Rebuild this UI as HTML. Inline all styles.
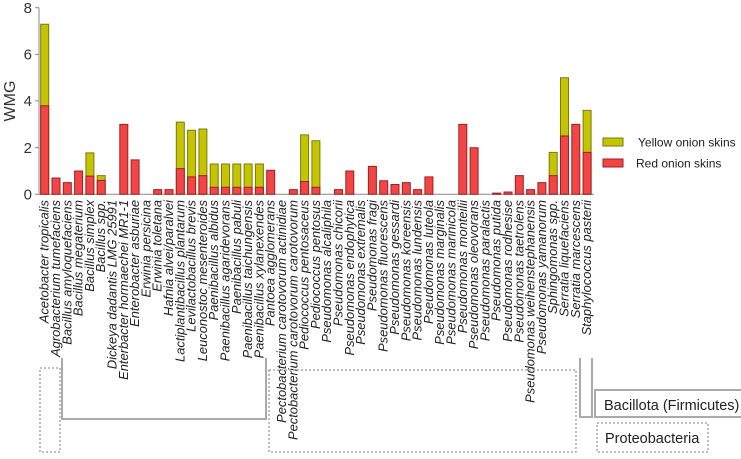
<!DOCTYPE html>
<html><head><meta charset="utf-8"><style>
html,body{margin:0;padding:0;background:#fff;}
svg{display:block;font-family:"Liberation Sans",sans-serif;}
.l text{font-style:italic;font-size:12.9px;fill:#222;}
</style></head><body>
<svg width="741" height="459" viewBox="0 0 741 459">
<!-- axes -->
<line x1="39" y1="7.7" x2="39" y2="194.3" stroke="#888" stroke-width="1"/>
<line x1="39" y1="194.3" x2="594" y2="194.3" stroke="#888" stroke-width="1"/>
<g stroke="#888"><line x1="35" y1="7.7" x2="39" y2="7.7"/><line x1="35" y1="54.3" x2="39" y2="54.3"/><line x1="35" y1="100.9" x2="39" y2="100.9"/><line x1="35" y1="147.7" x2="39" y2="147.7"/><line x1="35" y1="194.3" x2="39" y2="194.3"/></g>
<g font-size="15" fill="#333" text-anchor="end"><text x="32" y="13">8</text><text x="32" y="59.6">6</text><text x="32" y="106.2">4</text><text x="32" y="152.8">2</text><text x="32" y="199.4">0</text></g>
<text transform="translate(15,101) rotate(-90)" font-size="16" fill="#333" text-anchor="middle">WMG</text>

<g transform="translate(0,194.3) scale(1,-23.3)" stroke-width="1">
<g fill="#c4c400" stroke="#7a7a10">
<rect vector-effect="non-scaling-stroke" x="40.7" y="0" width="8" height="7.3"/>
<rect vector-effect="non-scaling-stroke" x="85.9" y="0" width="8" height="1.78"/>
<rect vector-effect="non-scaling-stroke" x="97.2" y="0" width="8" height="0.8"/>
<rect vector-effect="non-scaling-stroke" x="176.3" y="0" width="8" height="3.1"/>
<rect vector-effect="non-scaling-stroke" x="187.6" y="0" width="8" height="2.75"/>
<rect vector-effect="non-scaling-stroke" x="198.9" y="0" width="8" height="2.8"/>
<rect vector-effect="non-scaling-stroke" x="210.2" y="0" width="8" height="1.3"/>
<rect vector-effect="non-scaling-stroke" x="221.5" y="0" width="8" height="1.3"/>
<rect vector-effect="non-scaling-stroke" x="232.8" y="0" width="8" height="1.3"/>
<rect vector-effect="non-scaling-stroke" x="244.1" y="0" width="8" height="1.3"/>
<rect vector-effect="non-scaling-stroke" x="255.4" y="0" width="8" height="1.3"/>
<rect vector-effect="non-scaling-stroke" x="300.6" y="0" width="8" height="2.55"/>
<rect vector-effect="non-scaling-stroke" x="311.9" y="0" width="8" height="2.3"/>
<rect vector-effect="non-scaling-stroke" x="549.2" y="0" width="8" height="1.8"/>
<rect vector-effect="non-scaling-stroke" x="560.5" y="0" width="8" height="5.0"/>
<rect vector-effect="non-scaling-stroke" x="583.1" y="0" width="8" height="3.6"/>
</g>
<g fill="#f24545" stroke="#a02020">
<rect vector-effect="non-scaling-stroke" x="40.7" y="0" width="8" height="3.8"/>
<rect vector-effect="non-scaling-stroke" x="52.0" y="0" width="8" height="0.7"/>
<rect vector-effect="non-scaling-stroke" x="63.3" y="0" width="8" height="0.5"/>
<rect vector-effect="non-scaling-stroke" x="74.6" y="0" width="8" height="1.0"/>
<rect vector-effect="non-scaling-stroke" x="85.9" y="0" width="8" height="0.78"/>
<rect vector-effect="non-scaling-stroke" x="97.2" y="0" width="8" height="0.6"/>
<rect vector-effect="non-scaling-stroke" x="119.8" y="0" width="8" height="3.0"/>
<rect vector-effect="non-scaling-stroke" x="131.1" y="0" width="8" height="1.48"/>
<rect vector-effect="non-scaling-stroke" x="153.7" y="0" width="8" height="0.2"/>
<rect vector-effect="non-scaling-stroke" x="165.0" y="0" width="8" height="0.2"/>
<rect vector-effect="non-scaling-stroke" x="176.3" y="0" width="8" height="1.1"/>
<rect vector-effect="non-scaling-stroke" x="187.6" y="0" width="8" height="0.75"/>
<rect vector-effect="non-scaling-stroke" x="198.9" y="0" width="8" height="0.8"/>
<rect vector-effect="non-scaling-stroke" x="210.2" y="0" width="8" height="0.3"/>
<rect vector-effect="non-scaling-stroke" x="221.5" y="0" width="8" height="0.3"/>
<rect vector-effect="non-scaling-stroke" x="232.8" y="0" width="8" height="0.3"/>
<rect vector-effect="non-scaling-stroke" x="244.1" y="0" width="8" height="0.3"/>
<rect vector-effect="non-scaling-stroke" x="255.4" y="0" width="8" height="0.3"/>
<rect vector-effect="non-scaling-stroke" x="266.7" y="0" width="8" height="1.03"/>
<rect vector-effect="non-scaling-stroke" x="289.3" y="0" width="8" height="0.2"/>
<rect vector-effect="non-scaling-stroke" x="300.6" y="0" width="8" height="0.55"/>
<rect vector-effect="non-scaling-stroke" x="311.9" y="0" width="8" height="0.3"/>
<rect vector-effect="non-scaling-stroke" x="334.5" y="0" width="8" height="0.2"/>
<rect vector-effect="non-scaling-stroke" x="345.8" y="0" width="8" height="1.0"/>
<rect vector-effect="non-scaling-stroke" x="368.4" y="0" width="8" height="1.2"/>
<rect vector-effect="non-scaling-stroke" x="379.7" y="0" width="8" height="0.58"/>
<rect vector-effect="non-scaling-stroke" x="391.0" y="0" width="8" height="0.42"/>
<rect vector-effect="non-scaling-stroke" x="402.3" y="0" width="8" height="0.5"/>
<rect vector-effect="non-scaling-stroke" x="413.6" y="0" width="8" height="0.2"/>
<rect vector-effect="non-scaling-stroke" x="424.9" y="0" width="8" height="0.75"/>
<rect vector-effect="non-scaling-stroke" x="458.8" y="0" width="8" height="3.0"/>
<rect vector-effect="non-scaling-stroke" x="470.1" y="0" width="8" height="2.0"/>
<rect vector-effect="non-scaling-stroke" x="492.7" y="0" width="8" height="0.05"/>
<rect vector-effect="non-scaling-stroke" x="504.0" y="0" width="8" height="0.1"/>
<rect vector-effect="non-scaling-stroke" x="515.3" y="0" width="8" height="0.8"/>
<rect vector-effect="non-scaling-stroke" x="526.6" y="0" width="8" height="0.2"/>
<rect vector-effect="non-scaling-stroke" x="537.9" y="0" width="8" height="0.5"/>
<rect vector-effect="non-scaling-stroke" x="549.2" y="0" width="8" height="0.8"/>
<rect vector-effect="non-scaling-stroke" x="560.5" y="0" width="8" height="2.5"/>
<rect vector-effect="non-scaling-stroke" x="571.8" y="0" width="8" height="3.0"/>
<rect vector-effect="non-scaling-stroke" x="583.1" y="0" width="8" height="1.8"/>
</g>
</g>

<g class="l" text-anchor="end">
<text transform="translate(48.7,200) rotate(-90)">Acetobacter tropicalis</text>
<text transform="translate(60.0,200) rotate(-90)">Agrobacterium tumefaciens</text>
<text transform="translate(71.3,200) rotate(-90)">Bacillus amyloquefaciens</text>
<text transform="translate(82.6,200) rotate(-90)">Bacillus megaterium</text>
<text transform="translate(93.9,200) rotate(-90)">Bacillus simplex</text>
<text transform="translate(105.2,200) rotate(-90)">Bacillus spp.</text>
<text transform="translate(116.5,200) rotate(-90)">Dickeya dadantis LMG 25991</text>
<text transform="translate(127.8,200) rotate(-90)">Enterbacter hormaechei MR1-1</text>
<text transform="translate(139.1,200) rotate(-90)">Enterobacter asburiae</text>
<text transform="translate(150.4,200) rotate(-90)">Erwinia persicina</text>
<text transform="translate(161.7,200) rotate(-90)">Erwinia toletana</text>
<text transform="translate(173.0,200) rotate(-90)">Hafnia alvei/paralvei</text>
<text transform="translate(184.3,200) rotate(-90)">Lactiplantibacillus plantarum</text>
<text transform="translate(195.6,200) rotate(-90)">Levilactobacillus brevis</text>
<text transform="translate(206.9,200) rotate(-90)">Leuconostoc mesenteroides</text>
<text transform="translate(218.2,200) rotate(-90)">Paenibacillus albidus</text>
<text transform="translate(229.5,200) rotate(-90)">Paenibacillus agaridevorans</text>
<text transform="translate(240.8,200) rotate(-90)">Paenibacillus pabuli</text>
<text transform="translate(252.1,200) rotate(-90)">Paenibacillus taichungensis</text>
<text transform="translate(263.4,200) rotate(-90)">Paenibacillus xylanexendes</text>
<text transform="translate(274.7,200) rotate(-90)">Pantoea agglomerans</text>
<text transform="translate(286.0,200) rotate(-90)">Pectobacterium carotovorum actinidiae</text>
<text transform="translate(297.3,200) rotate(-90)">Pectobacterium carotovorum carotovorum</text>
<text transform="translate(308.6,200) rotate(-90)">Pediococcus pentosaceus</text>
<text transform="translate(319.9,200) rotate(-90)">Pediococcus pentosus</text>
<text transform="translate(331.2,200) rotate(-90)">Pseudomonas alcaliphila</text>
<text transform="translate(342.5,200) rotate(-90)">Pseudomonas chicorii</text>
<text transform="translate(353.8,200) rotate(-90)">Pseudomonas endophytica</text>
<text transform="translate(365.1,200) rotate(-90)">Pseudomonas extremalis</text>
<text transform="translate(376.4,200) rotate(-90)">Pseudomonas fragi</text>
<text transform="translate(387.7,200) rotate(-90)">Pseudomonas fluorescens</text>
<text transform="translate(399.0,200) rotate(-90)">Pseudomonas gessardi</text>
<text transform="translate(410.3,200) rotate(-90)">Pseudomonas koreensis</text>
<text transform="translate(421.6,200) rotate(-90)">Pseudomonas lundensis</text>
<text transform="translate(432.9,200) rotate(-90)">Pseudomonas luteola</text>
<text transform="translate(444.2,200) rotate(-90)">Pseudomonas marginalis</text>
<text transform="translate(455.5,200) rotate(-90)">Pseudomonas marinicola</text>
<text transform="translate(466.8,200) rotate(-90)">Pseudomonas monteilii</text>
<text transform="translate(478.1,200) rotate(-90)">Pseudomonas oleovorans</text>
<text transform="translate(489.4,200) rotate(-90)">Pseudomonas paralactis</text>
<text transform="translate(500.7,200) rotate(-90)">Pseudomonas putida</text>
<text transform="translate(512.0,200) rotate(-90)">Pseudomonas rodhesise</text>
<text transform="translate(523.3,200) rotate(-90)">Pseudomonas taetrolens</text>
<text transform="translate(534.6,200) rotate(-90)">Pseudomonas weihenstephanensis</text>
<text transform="translate(545.9,200) rotate(-90)">Pseudomonas yamanorum</text>
<text transform="translate(557.2,200) rotate(-90)">Sphingomonas spp.</text>
<text transform="translate(568.5,200) rotate(-90)">Serratia liquefaciens</text>
<text transform="translate(579.8,200) rotate(-90)">Serratia marcescens</text>
<text transform="translate(591.1,200) rotate(-90)">Staphylococcus pasterii</text>
</g>

<!-- legend -->
<rect x="603" y="138" width="20" height="8" fill="#c4c400" stroke="#7a7a10"/>
<rect x="603" y="159" width="20" height="8" fill="#f24545" stroke="#a02020"/>
<text x="638" y="146.5" font-size="12" fill="#222">Yellow onion skins</text>
<text x="636" y="167.5" font-size="12" fill="#222">Red onion skins</text>

<!-- brackets -->
<g fill="none" stroke="#aaa" stroke-width="2">
<polyline points="62,358 62,419 266,419 266,358"/>
<polyline points="580,358 580,417 592,417 592,358"/>
<rect x="595" y="390" width="150" height="27"/>
</g>
<g fill="none" stroke="#aaa" stroke-width="1.5" stroke-dasharray="2,2">
<rect x="40" y="368" width="20" height="84"/>
<rect x="269" y="370" width="307" height="82"/>
<rect x="597" y="423" width="111" height="29"/>
</g>
<text x="604" y="410" font-size="14.5" fill="#222">Bacillota (Firmicutes)</text>
<text x="605" y="443" font-size="14.5" fill="#222">Proteobacteria</text>
</svg>
</body></html>
